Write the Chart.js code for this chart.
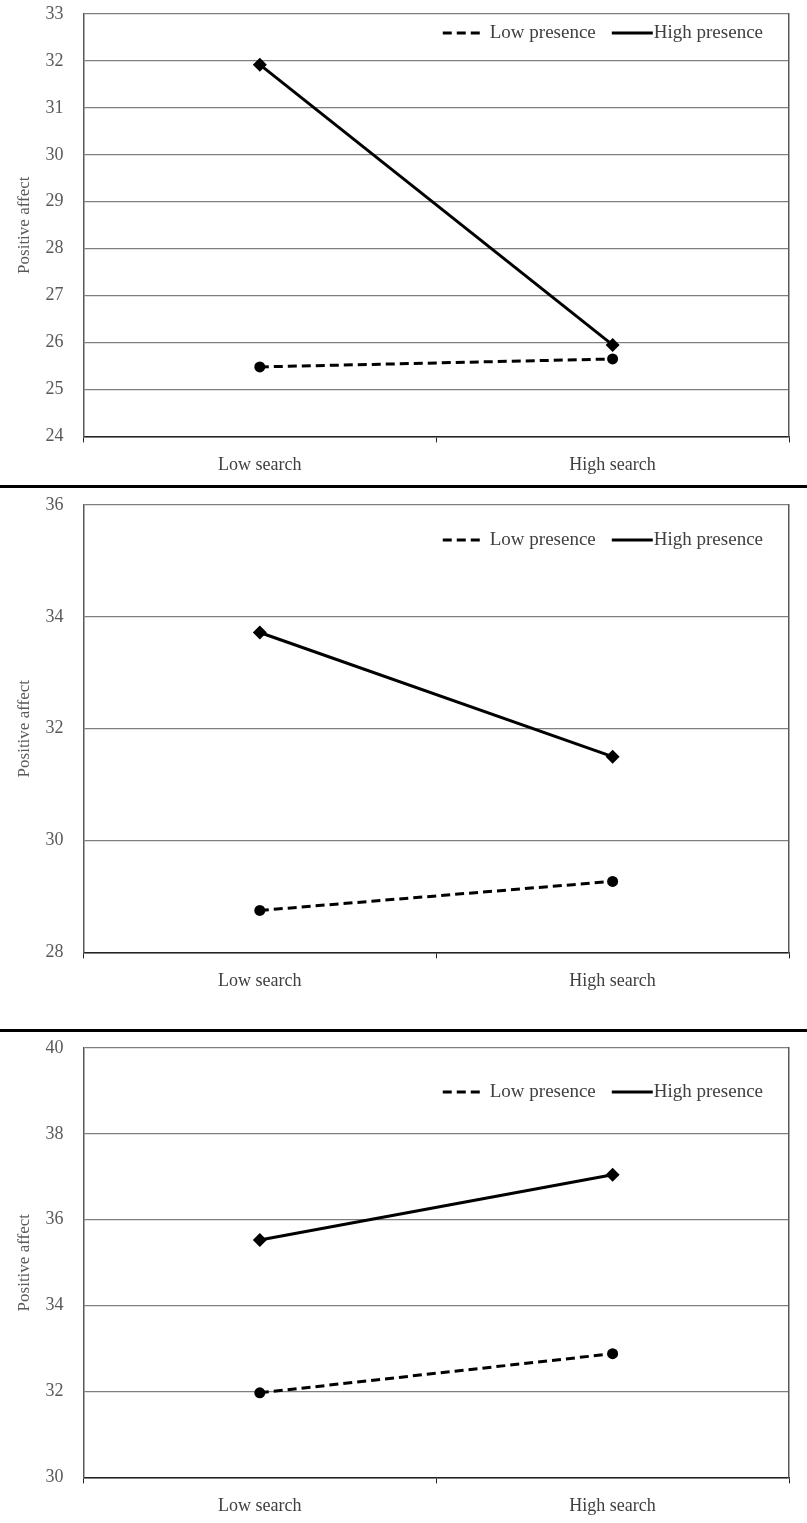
<!DOCTYPE html>
<html>
<head>
<meta charset="utf-8">
<script src="https://cdn.jsdelivr.net/npm/chart.js@4.4.1/dist/chart.umd.min.js"></script>
<style>
  html, body { margin: 0; padding: 0; background: #fff; }
  .box { position: relative; width: 807px; }
  .sep { width: 807px; height: 3px; background: #000; }
</style>
</head>
<body>
<div class="box" style="height:485px"><canvas id="c1"></canvas></div>
<div class="sep"></div>
<div class="box" style="height:541px"><canvas id="c2"></canvas></div>
<div class="sep"></div>
<div class="box" style="height:491px"><canvas id="c3"></canvas></div>
<script>
const categories = ['Low search', 'High search'];
const seriesNames = ['Low presence', 'High presence'];

// panel 1
const low1 = [25.48, 25.65];
const high1 = [31.92, 25.95];
// panel 2
const low2 = [28.75, 29.27];
const high2 = [33.72, 31.5];
// panel 3
const low3 = [31.97, 32.88];
const high3 = [35.53, 37.05];

const serif = '"Liberation Serif", "Times New Roman", serif';

// legend drawn inside the plot, top right (like the Excel original)
const innerLegend = {
    id: 'innerLegend',
    afterDraw(chart, args, opts) {
        const ctx = chart.ctx;
        const area = chart.chartArea;
        ctx.save();
        ctx.font = '19px ' + serif;
        ctx.textBaseline = 'middle';
        const y = area.top + opts.offsetY;
        let x = area.right - opts.marginRight;
        const items = chart.data.datasets.slice().reverse();
        items.forEach((ds) => {
            const w = ctx.measureText(ds.label).width;
            x -= w;
            ctx.fillStyle = '#404040';
            ctx.fillText(ds.label, x, y);
            const gap = ds.borderDash ? 6 : 1;
            ctx.strokeStyle = ds.borderColor;
            ctx.lineWidth = ds.borderWidth;
            ctx.setLineDash(ds.borderDash || []);
            ctx.beginPath();
            ctx.moveTo(x - gap - 41, y);
            ctx.lineTo(x - gap, y);
            ctx.stroke();
            ctx.setLineDash([]);
            x -= gap + 41 + 16;
        });
        ctx.restore();
    }
};

const makeChart = (id, low, high, yMin, yMax, yStep, pad, legendY) => {
    const ctx = document.getElementById(id).getContext('2d');
    new Chart(ctx, {
        type: 'line',
        data: {
            labels: categories,
            datasets: [{
                label: seriesNames[0],
                data: low,
                borderColor: '#000',
                backgroundColor: '#000',
                borderWidth: 3,
                borderDash: [9, 5],
                pointStyle: 'circle',
                pointRadius: 5.5,
                pointBorderWidth: 0,
                tension: 0
            }, {
                label: seriesNames[1],
                data: high,
                borderColor: '#000',
                backgroundColor: '#000',
                borderWidth: 3,
                pointStyle: 'rectRot',
                pointRadius: 7,
                pointBorderWidth: 0,
                tension: 0
            }]
        },
        options: {
            responsive: true,
            maintainAspectRatio: false,
            animation: false,
            layout: { autoPadding: false, padding: pad },
            plugins: {
                tooltip: { enabled: false },
                legend: { display: false },
                innerLegend: { offsetY: legendY, marginRight: 26 }
            },
            scales: {
                x: {
                    offset: true,
                    border: { color: '#222', width: 1.5 },
                    grid: { offset: true, drawOnChartArea: false, drawTicks: true, tickLength: 6, color: '#222' },
                    ticks: { color: '#404040', padding: 12, font: { family: serif, size: 18 } }
                },
                y: {
                    min: yMin,
                    max: yMax,
                    border: { color: '#595959', width: 1.5 },
                    // invisible tick marks give the gap between labels and axis
                    grid: { color: '#7f7f7f', lineWidth: 1.2, drawTicks: true, tickLength: 18, tickColor: 'rgba(0,0,0,0)' },
                    ticks: { stepSize: yStep, color: '#595959', padding: 2, font: { family: serif, size: 18 } },
                    title: { display: true, text: 'Positive affect', color: '#595959', padding: { top: 14, bottom: 9 }, font: { family: serif, size: 17 } }
                },
                yRight: {
                    position: 'right',
                    min: yMin,
                    max: yMax,
                    border: { color: '#595959', width: 1.5 },
                    grid: { display: false, drawTicks: false },
                    ticks: { display: false }
                }
            }
        },
        plugins: [innerLegend]
    });
};

makeChart('c1', low1, high1, 24, 33, 1, { top: 14, right: 18, left: 0, bottom: -3 }, 19);
makeChart('c2', low2, high2, 28, 36, 2, { top: 17, right: 18, left: 0, bottom: 25 }, 35);
makeChart('c3', low3, high3, 30, 40, 2, { top: 16, right: 18, left: 0, bottom: -6 }, 44);
</script>
</body>
</html>
